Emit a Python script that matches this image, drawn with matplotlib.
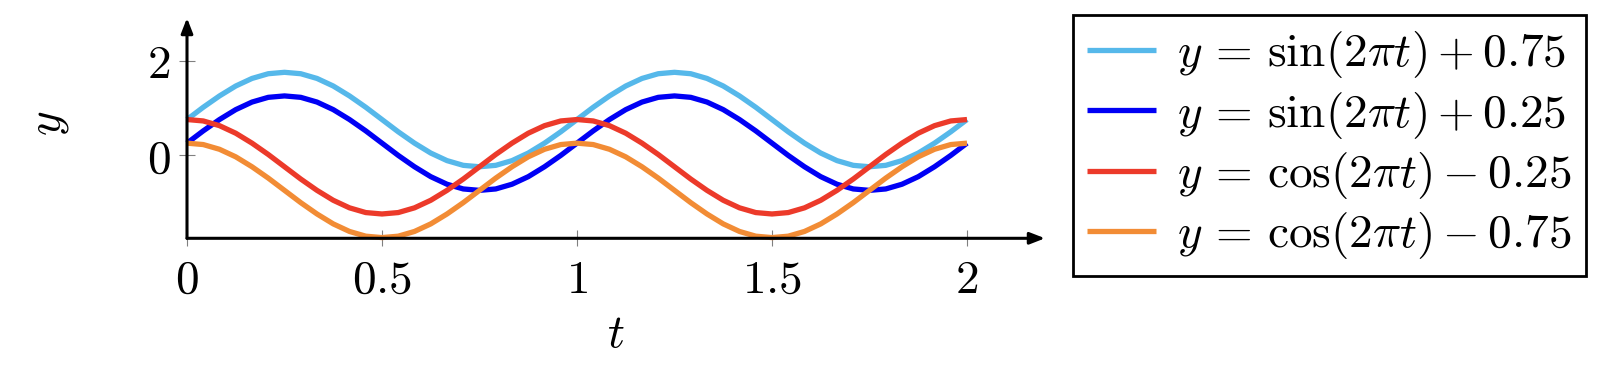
import matplotlib
matplotlib.use("Agg")
from matplotlib import pyplot as plt

# t sampled every 1/24
t = [k / 24 for k in range(49)]
sin_hi = [0.75, 1.01, 1.25, 1.46, 1.62, 1.72, 1.75, 1.72, 1.62, 1.46, 1.25, 1.01,
          0.75, 0.49, 0.25, 0.04, -0.12, -0.22, -0.25, -0.22, -0.12, 0.04, 0.25, 0.49,
          0.75, 1.01, 1.25, 1.46, 1.62, 1.72, 1.75, 1.72, 1.62, 1.46, 1.25, 1.01,
          0.75, 0.49, 0.25, 0.04, -0.12, -0.22, -0.25, -0.22, -0.12, 0.04, 0.25, 0.49, 0.75]
sin_lo = [0.25, 0.51, 0.75, 0.96, 1.12, 1.22, 1.25, 1.22, 1.12, 0.96, 0.75, 0.51,
          0.25, -0.01, -0.25, -0.46, -0.62, -0.72, -0.75, -0.72, -0.62, -0.46, -0.25, -0.01,
          0.25, 0.51, 0.75, 0.96, 1.12, 1.22, 1.25, 1.22, 1.12, 0.96, 0.75, 0.51,
          0.25, -0.01, -0.25, -0.46, -0.62, -0.72, -0.75, -0.72, -0.62, -0.46, -0.25, -0.01, 0.25]
cos_hi = [0.75, 0.72, 0.62, 0.46, 0.25, 0.01, -0.25, -0.51, -0.75, -0.96, -1.12, -1.22,
          -1.25, -1.22, -1.12, -0.96, -0.75, -0.51, -0.25, 0.01, 0.25, 0.46, 0.62, 0.72,
          0.75, 0.72, 0.62, 0.46, 0.25, 0.01, -0.25, -0.51, -0.75, -0.96, -1.12, -1.22,
          -1.25, -1.22, -1.12, -0.96, -0.75, -0.51, -0.25, 0.01, 0.25, 0.46, 0.62, 0.72, 0.75]
cos_lo = [0.25, 0.22, 0.12, -0.04, -0.25, -0.49, -0.75, -1.01, -1.25, -1.46, -1.62, -1.72,
          -1.75, -1.72, -1.62, -1.46, -1.25, -1.01, -0.75, -0.49, -0.25, -0.04, 0.12, 0.22,
          0.25, 0.22, 0.12, -0.04, -0.25, -0.49, -0.75, -1.01, -1.25, -1.46, -1.62, -1.72,
          -1.75, -1.72, -1.62, -1.46, -1.25, -1.01, -0.75, -0.49, -0.25, -0.04, 0.12, 0.22, 0.25]

labels = [r"$y\,=\,\sin(2\pi t)+0.75$", r"$y\,=\,\sin(2\pi t)+0.25$",
          r"$y\,=\,\cos(2\pi t)-0.25$", r"$y\,=\,\cos(2\pi t)-0.75$"]
colors = ["#56B8EA", "#0000F5", "#EC3A2A", "#F28C35"]

xticks = [0, 0.5, 1, 1.5, 2]
xticklabels = ["$0$", "$0.5$", "$1$", "$1.5$", "$2$"]
yticks = [0, 2]
yticklabels = ["$0$", "$2$"]

plt.rcParams["mathtext.fontset"] = "cm"
plt.rcParams["font.family"] = "serif"
plt.rcParams["font.serif"] = ["DejaVu Serif"]
fs = 34

fig = plt.figure(figsize=(16.1, 3.8), dpi=100)
ax = fig.add_axes([187 / 1610, 1 - 238.3 / 380, (1045 - 187) / 1610, (238.3 - 18) / 380])

lines = []
for ys, c, lab in zip([sin_hi, sin_lo, cos_hi, cos_lo], colors, labels):
    ln, = ax.plot(t, ys, color=c, lw=3.8, label=lab, solid_capstyle="butt", clip_on=False)
    lines.append(ln)

ax.set_xlim(0, 2.2)
ax.set_ylim(-1.765, 2.9)
for s in ax.spines.values():
    s.set_visible(False)

# axis lines with arrows
ax.annotate("", xy=(1, 0), xytext=(0, 0), xycoords="axes fraction",
            arrowprops=dict(arrowstyle="-|>,head_length=0.9,head_width=0.35", color="black", lw=2.2,
                            shrinkA=0, shrinkB=0))
ax.annotate("", xy=(0, 1), xytext=(0, 0), xycoords="axes fraction",
            arrowprops=dict(arrowstyle="-|>,head_length=0.9,head_width=0.35", color="black", lw=2.2,
                            shrinkA=0, shrinkB=0))

ax.set_xticks(xticks)
ax.set_xticklabels(xticklabels, fontsize=fs)
ax.set_yticks(yticks)
ax.set_yticklabels(yticklabels, fontsize=fs)
ax.tick_params(direction="inout", length=12, width=0.8, color="gray", pad=6)
ax.tick_params(axis="x", pad=8)

fig.text(616 / 1610, 1 - 334 / 380, "$t$", fontsize=fs, ha="center", va="center")
fig.text(48 / 1610, 1 - 123 / 380, "$y$", fontsize=fs, ha="center", va="center", rotation=90)

leg = fig.legend(handles=lines, loc="upper left", bbox_to_anchor=(1073 / 1610, 1 - 15 / 380),
                 fontsize=fs, frameon=True, fancybox=False, edgecolor="black", framealpha=1,
                 handlelength=1.45, handletextpad=0.45, borderpad=0.3, labelspacing=0.2,
                 borderaxespad=0)
leg.get_frame().set_linewidth(2)

plt.savefig("out.png", dpi=100)
